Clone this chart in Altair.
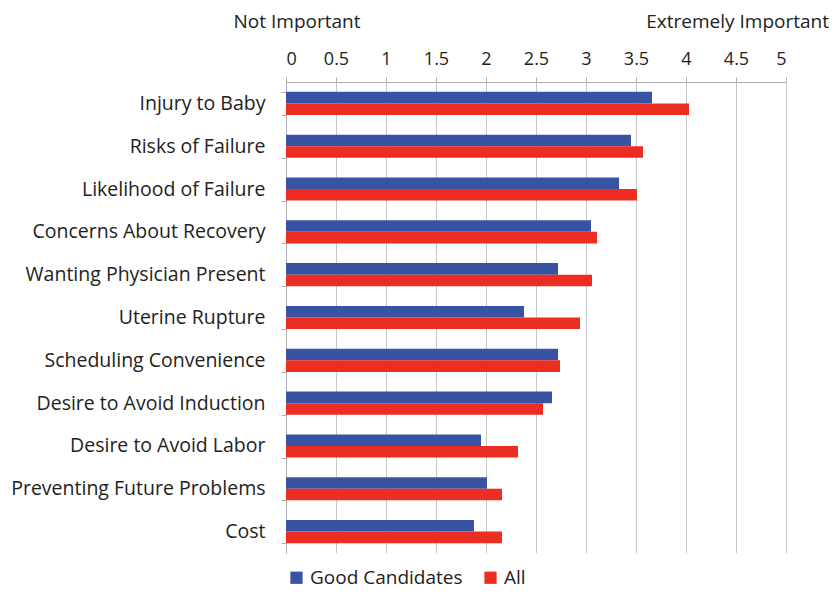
import altair as alt
import pandas as pd

categories = [
    "Injury to Baby", "Risks of Failure", "Likelihood of Failure",
    "Concerns About Recovery", "Wanting Physician Present", "Uterine Rupture",
    "Scheduling Convenience", "Desire to Avoid Induction", "Desire to Avoid Labor",
    "Preventing Future Problems", "Cost",
]
good_candidates = [3.66, 3.45, 3.33, 3.05, 2.72, 2.38, 2.72, 2.66, 1.95, 2.01, 1.88]
all_values = [4.03, 3.57, 3.51, 3.11, 3.06, 2.94, 2.74, 2.57, 2.32, 2.16, 2.16]
series = ["Good Candidates", "All"]
colors = ["#3953a4", "#ec2d23"]
x_ticks = [0, 0.5, 1, 1.5, 2, 2.5, 3, 3.5, 4, 4.5, 5]

rows = []
for c, g, a in zip(categories, good_candidates, all_values):
    rows.append({"Factor": c, "Group": series[0], "Value": g})
    rows.append({"Factor": c, "Group": series[1], "Value": a})
df = pd.DataFrame(rows)

FONT = "Open Sans"
TXT = "#222222"

bars = alt.Chart(df).mark_bar().encode(
    x=alt.X("Value:Q", scale=alt.Scale(domain=[0, 5], nice=False),
            axis=alt.Axis(orient="top", values=x_ticks, title=None, grid=True, format="~g",
                          gridColor="#c8c8c8", domainColor="#b0b0b0", tickColor="#b0b0b0",
                          tickSize=5, labelPadding=9, labelFontSize=18, labelFont=FONT,
                          labelColor=TXT)),
    y=alt.Y("Factor:N", sort=categories,
            scale=alt.Scale(paddingInner=0.46, paddingOuter=0.23),
            axis=alt.Axis(title=None, tickBand="extent", tickSize=5, tickColor="#b0b0b0",
                          domainColor="#b0b0b0", labelPadding=16, labelFontSize=19.5,
                          labelFont=FONT, labelColor=TXT, labelLimit=300)),
    yOffset=alt.YOffset("Group:N", sort=series, scale=alt.Scale(paddingInner=0, paddingOuter=0)),
    color=alt.Color("Group:N", sort=series,
                    scale=alt.Scale(domain=series, range=colors),
                    legend=alt.Legend(title=None, orient="none", legendX=1, legendY=486,
                                      direction="horizontal", symbolType="square",
                                      symbolSize=150, symbolStrokeWidth=0,
                                      labelFontSize=19, labelFont=FONT, labelColor=TXT,
                                      columnPadding=18, labelOffset=4)),
)

ann_df = pd.DataFrame({"x": [0, 5], "label": ["Not Important", "Extremely Important"]})
ann_left = alt.Chart(ann_df.iloc[[0]]).mark_text(
    align="center", baseline="middle", fontSize=19, font=FONT, color=TXT, dx=11
).encode(x="x:Q", y=alt.value(-60), text="label:N")
ann_right = alt.Chart(ann_df.iloc[[1]]).mark_text(
    align="right", baseline="middle", fontSize=19, font=FONT, color=TXT, dx=43
).encode(x="x:Q", y=alt.value(-60), text="label:N")

chart = alt.layer(bars, ann_left, ann_right).properties(
    width=500, height=471,
    autosize=alt.AutoSizeParams(type="none"),
    padding={"left": 278, "top": 74, "right": 43, "bottom": 36},
).configure_view(stroke=None)

chart.save("out.html", embed_options={"renderer": "svg", "actions": False})
